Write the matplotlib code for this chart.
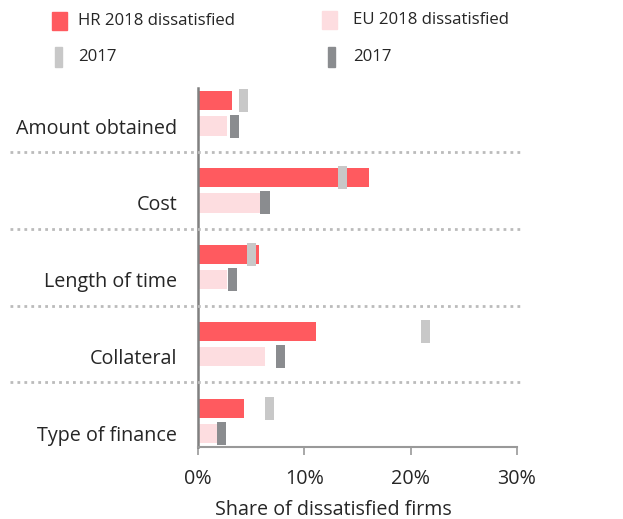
import matplotlib.pyplot as plt
from matplotlib.patches import Rectangle
from matplotlib.lines import Line2D
import matplotlib.transforms as mtransforms

plt.rcParams['font.family'] = ['Open Sans', 'DejaVu Sans']

categories = ['Amount obtained', 'Cost', 'Length of time', 'Collateral', 'Type of finance']
hr_2018 = [3.2, 16.1, 5.7, 11.1, 4.3]
eu_2018 = [2.7, 5.9, 2.7, 6.3, 1.8]
hr_2017 = [4.3, 13.6, 5.0, 21.4, 6.7]
eu_2017 = [3.4, 6.3, 3.2, 7.8, 2.2]
xticks = [0, 10, 20, 30]
xtick_labels = ['0%', '10%', '20%', '30%']

RED = '#FF5A5F'
PINK = '#FDDDE0'
LIGHT_GREY = '#C8C8C8'
DARK_GREY = '#8A8C8F'
TEXT = '#262626'
FS = 14.2

fig = plt.figure(figsize=(6.23, 5.19), dpi=100)
ax = fig.add_axes([198 / 623, 1 - 447 / 519, 319 / 623, 359 / 519])

off = 0.165
bar_h = 0.25
mark_h = 0.30
mark_w = 0.85
y = list(range(len(categories)))

ax.barh([i - off for i in y], hr_2018, height=bar_h, color=RED, zorder=2)
ax.barh([i + off for i in y], eu_2018, height=bar_h, color=PINK, zorder=2)
ax.barh([i - off for i in y], [mark_w] * len(y), left=[v - mark_w / 2 for v in hr_2017],
        height=mark_h, color=LIGHT_GREY, zorder=3)
ax.barh([i + off for i in y], [mark_w] * len(y), left=[v - mark_w / 2 for v in eu_2017],
        height=mark_h, color=DARK_GREY, zorder=3)

ax.set_xlim(0, 30)
ax.set_ylim(len(categories) - 1 + 0.34, -0.33)
ax.set_xticks(xticks)
ax.set_xticklabels(xtick_labels, fontsize=FS, color=TEXT)
ax.set_yticks([i + off for i in y])
ax.set_yticklabels(categories, fontsize=FS, color=TEXT)
ax.tick_params(axis='y', length=0, pad=15)
ax.tick_params(axis='x', length=6, width=1.2, color='#999999', pad=10)
ax.set_xlabel('Share of dissatisfied firms', fontsize=FS, color=TEXT)
ax.xaxis.set_label_coords(0.423, -0.147)

for s in ['top', 'right']:
    ax.spines[s].set_visible(False)
ax.spines['left'].set_color('#808080')
ax.spines['left'].set_linewidth(1.8)
ax.spines['bottom'].set_color('#999999')
ax.spines['bottom'].set_linewidth(1.5)

# dotted separators between groups, extending left past the axis
trans = mtransforms.blended_transform_factory(fig.transFigure, ax.transData)
for i in range(len(categories) - 1):
    fig.add_artist(Line2D([10 / 623, 522 / 623], [i + 0.5, i + 0.5], transform=trans,
                          color='#BBBBBB', linewidth=2, linestyle=(0, (1, 1.5))))

# legend
def legend_item(x, yc, w, h, color, label):
    fig.add_artist(Rectangle((x / 623, 1 - (yc + h / 2) / 519), w / 623, h / 519,
                             transform=fig.transFigure, color=color))
    fig.text(78 / 623 if x < 200 else 353 / 623, 1 - yc / 519, label,
             fontsize=12.1, color=TEXT, va='center', ha='left')

legend_item(52, 21, 15, 18, RED, 'HR 2018 dissatisfied')
legend_item(322, 20, 15, 18, PINK, 'EU 2018 dissatisfied')
legend_item(55, 57, 7, 20, LIGHT_GREY, '2017')
legend_item(328, 57, 7, 20, DARK_GREY, '2017')

fig.savefig('out.png', dpi=100)
